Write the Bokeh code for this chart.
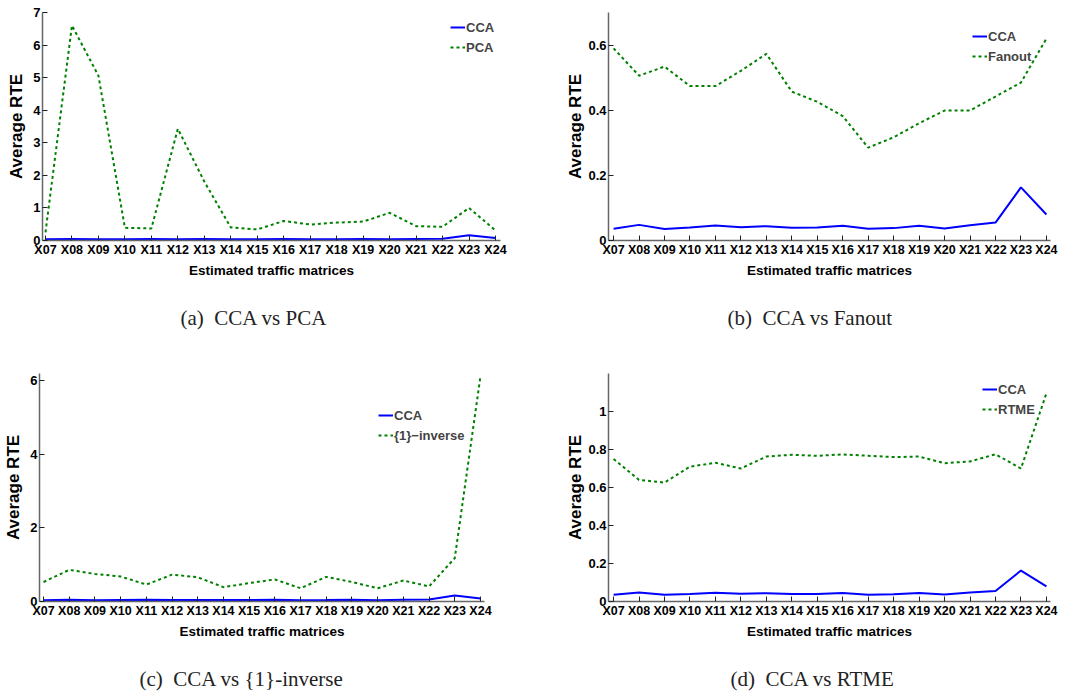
from bokeh.plotting import figure
from bokeh.models import Range1d, FixedTicker, NumeralTickFormatter, Legend, LegendItem, Title
from bokeh.layouts import column, row
from bokeh.embed import file_html
from bokeh.resources import INLINE

# ---------------- data ----------------
matrices = ["X07", "X08", "X09", "X10", "X11", "X12", "X13", "X14", "X15",
            "X16", "X17", "X18", "X19", "X20", "X21", "X22", "X23", "X24"]
cca = [0.036, 0.048, 0.035, 0.040, 0.046, 0.041, 0.044, 0.039, 0.040,
       0.045, 0.036, 0.038, 0.045, 0.037, 0.047, 0.055, 0.163, 0.080]
pca = [0.25, 6.60, 5.06, 0.39, 0.37, 3.43, 1.81, 0.40, 0.34,
       0.60, 0.49, 0.55, 0.58, 0.85, 0.44, 0.42, 1.00, 0.31]
fanout = [0.590, 0.506, 0.534, 0.474, 0.474, 0.521, 0.573, 0.457, 0.426,
          0.382, 0.285, 0.317, 0.360, 0.399, 0.399, 0.442, 0.485, 0.620]
inverse1 = [0.53, 0.86, 0.75, 0.68, 0.46, 0.73, 0.66, 0.39, 0.50,
            0.60, 0.36, 0.67, 0.53, 0.36, 0.57, 0.41, 1.18, 6.13]
rtme = [0.750, 0.640, 0.626, 0.710, 0.730, 0.700, 0.763, 0.772, 0.767,
        0.774, 0.767, 0.760, 0.763, 0.728, 0.737, 0.775, 0.700, 1.096]

ticks_a = [0, 1, 2, 3, 4, 5, 6, 7]
ticks_b = [0, 0.2, 0.4, 0.6]
ticks_c = [0, 2, 4, 6]
ticks_d = [0, 0.2, 0.4, 0.6, 0.8, 1]

xs = list(range(1, len(matrices) + 1))

SANS = "Liberation Sans"
SERIF = "Liberation Serif"


def make_panel(other, other_name, caption, yticks, ymax, xr, width, borders,
               legend_xy, ylab_standoff, cap_offset):
    left, right, top, bottom = borders
    p = figure(width=width, height=347, output_backend="svg", toolbar_location=None,
               x_range=Range1d(*xr), y_range=Range1d(0, ymax),
               min_border_left=left, min_border_right=right,
               min_border_top=top, min_border_bottom=bottom)
    p.outline_line_color = None
    p.xgrid.grid_line_color = None
    p.ygrid.grid_line_color = None
    p.background_fill_color = "white"
    p.border_fill_color = "white"

    r1 = p.line(xs, cca, line_color="#0000ff", line_width=2)
    r2 = p.line(xs, other, line_color="#008000", line_width=2, line_dash="3 3")

    for ax in (p.xaxis[0], p.yaxis[0]):
        ax.axis_line_color = "#666666"
        ax.axis_line_width = 1.5
        ax.major_tick_line_color = "#222222"
        ax.major_tick_in = 5
        ax.major_tick_out = 0
        ax.minor_tick_line_color = None
        ax.major_label_text_font = SANS
        ax.major_label_text_font_style = "bold"
        ax.major_label_text_color = "black"
        ax.major_label_standoff = 2
        ax.axis_label_text_font = SANS
        ax.axis_label_text_font_style = "bold"
        ax.axis_label_text_color = "black"

    p.xaxis.ticker = FixedTicker(ticks=xs)
    p.xaxis.major_label_overrides = {x: m for x, m in zip(xs, matrices)}
    p.xaxis.major_label_text_font_size = "12.5px"
    p.xaxis.axis_label = "Estimated traffic matrices"
    p.xaxis.axis_label_text_font_size = "13.5px"
    p.xaxis.axis_label_standoff = 3

    p.yaxis.ticker = FixedTicker(ticks=yticks)
    p.yaxis.formatter = NumeralTickFormatter(format="0.[0]")
    p.yaxis.major_label_text_font_size = "13px"
    p.yaxis.axis_label = "Average RTE"
    p.yaxis.axis_label_text_font_size = "17px"
    p.yaxis.axis_label_standoff = ylab_standoff

    legend = Legend(items=[LegendItem(label="CCA", renderers=[r1]),
                           LegendItem(label=other_name, renderers=[r2])],
                    location=legend_xy)
    legend.padding = 0
    legend.margin = 0
    legend.spacing = 0
    legend.glyph_width = 15
    legend.glyph_height = 20
    legend.label_height = 20
    legend.label_standoff = 1
    legend.label_text_font = SANS
    legend.label_text_font_style = "bold"
    legend.label_text_font_size = "13px"
    legend.border_line_alpha = 0
    legend.background_fill_alpha = 0
    p.add_layout(legend, "center")

    # blank spacer between the x-axis title and the sub-figure caption
    spacer = Title(text="\u00a0", text_font_size="19px", standoff=0)
    p.add_layout(spacer, "below")
    t = Title(text=caption, align="left", offset=cap_offset, text_font=SERIF,
              text_font_style="normal", text_font_size="21px", text_color="#222222",
              standoff=0)
    p.add_layout(t, "below")
    return p


pa = make_panel(pca, "PCA", "(a)\u00a0\u00a0CCA vs PCA", ticks_a, 7, (0.887, 18.19), 542,
                (42, 42, 12, 107), (408, 183), 4, 138)
pb = make_panel(fanout, "Fanout", "(b)\u00a0\u00a0CCA vs Fanout", ticks_b, 0.7, (0.8, 18.16), 543,
                (66, 35, 12, 107), (364, 174), 0, 119)
pc = make_panel(inverse1, "{1}\u2212inverse", "(c)\u00a0\u00a0CCA vs {1}-inverse", ticks_c, 6.2,
                (0.844, 18.156), 542, (39, 58, 26, 93), (339, 156), 4, 100)
pd = make_panel(rtme, "RTME", "(d)\u00a0\u00a0CCA vs RTME", ticks_d, 1.2, (0.8, 18.16), 543,
                (66, 35, 26, 93), (374, 182), 0, 122)

layout = column(row(pa, pb), row(pc, pd))

open("out.html", "w").write(file_html(layout, INLINE))
